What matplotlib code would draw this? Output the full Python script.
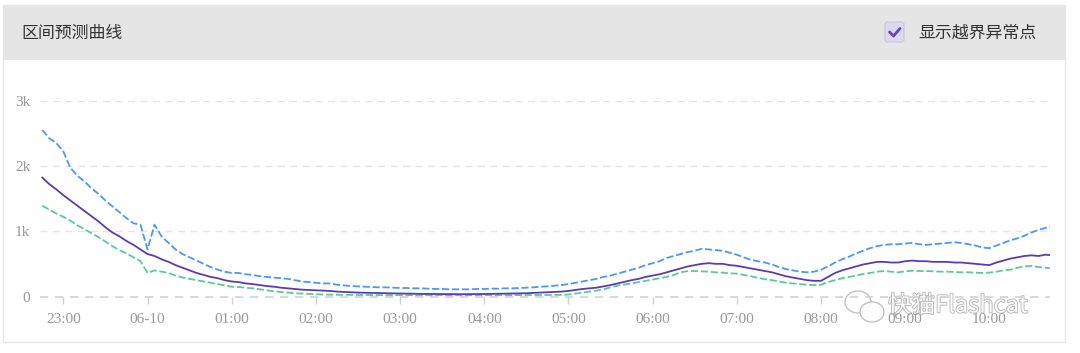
import numpy as np
import matplotlib
matplotlib.use("Agg")
import matplotlib.pyplot as plt
from matplotlib.patches import Rectangle, FancyBboxPatch, Ellipse
import matplotlib.patheffects as pe

plt.rcParams['font.family'] = ['Noto Sans CJK SC', 'DejaVu Sans']

# 5-minute samples starting 22:45 (x = hours since 22:00)
upper = [2.55, 2.42, 2.35, 2.22, 1.97, 1.85, 1.76, 1.66, 1.57, 1.47, 1.38, 1.29, 1.20, 1.12, 1.10,
         0.72, 1.10, 0.92, 0.82, 0.72, 0.65, 0.60, 0.55, 0.50, 0.45, 0.41, 0.38, 0.36, 0.36, 0.34,
         0.33, 0.31, 0.30, 0.29, 0.28, 0.27, 0.25, 0.23, 0.22, 0.21, 0.20, 0.20, 0.18, 0.17, 0.16,
         0.155, 0.15, 0.145, 0.14, 0.14, 0.135, 0.13, 0.13, 0.125, 0.125, 0.12, 0.115, 0.115, 0.11, 0.11,
         0.11, 0.11, 0.115, 0.115, 0.12, 0.12, 0.125, 0.125, 0.13, 0.135, 0.14, 0.15, 0.155, 0.165, 0.175,
         0.19, 0.21, 0.23, 0.25, 0.27, 0.30, 0.32, 0.35, 0.38, 0.41, 0.44, 0.48, 0.51, 0.54, 0.59,
         0.62, 0.65, 0.68, 0.70, 0.73, 0.72, 0.71, 0.70, 0.67, 0.64, 0.60, 0.56, 0.54, 0.52, 0.49,
         0.45, 0.42, 0.40, 0.38, 0.37, 0.38, 0.41, 0.46, 0.52, 0.57, 0.61, 0.66, 0.70, 0.74, 0.77,
         0.79, 0.80, 0.80, 0.81, 0.82, 0.80, 0.79, 0.80, 0.81, 0.82, 0.83, 0.82, 0.80, 0.78, 0.75,
         0.74, 0.78, 0.82, 0.86, 0.89, 0.93, 0.98, 1.02, 1.05, 1.08]

actual = [1.82, 1.72, 1.64, 1.55, 1.47, 1.39, 1.31, 1.23, 1.15, 1.06, 0.98, 0.92, 0.85, 0.79, 0.72,
          0.65, 0.62, 0.57, 0.53, 0.48, 0.44, 0.40, 0.36, 0.33, 0.30, 0.28, 0.25, 0.23, 0.22, 0.20,
          0.19, 0.175, 0.16, 0.15, 0.135, 0.125, 0.115, 0.105, 0.10, 0.095, 0.09, 0.085, 0.075, 0.07, 0.065,
          0.06, 0.058, 0.055, 0.052, 0.05, 0.048, 0.045, 0.043, 0.042, 0.04, 0.04, 0.038, 0.037, 0.036, 0.035,
          0.035, 0.036, 0.037, 0.038, 0.04, 0.042, 0.044, 0.046, 0.048, 0.05, 0.055, 0.06, 0.065, 0.07, 0.075,
          0.085, 0.10, 0.115, 0.125, 0.135, 0.155, 0.175, 0.20, 0.225, 0.25, 0.27, 0.30, 0.32, 0.34, 0.37,
          0.40, 0.43, 0.46, 0.48, 0.50, 0.51, 0.50, 0.50, 0.48, 0.47, 0.45, 0.43, 0.41, 0.39, 0.37,
          0.34, 0.31, 0.29, 0.27, 0.25, 0.24, 0.24, 0.30, 0.36, 0.40, 0.43, 0.46, 0.49, 0.51, 0.53,
          0.53, 0.52, 0.52, 0.54, 0.55, 0.54, 0.54, 0.53, 0.53, 0.53, 0.52, 0.52, 0.51, 0.50, 0.49,
          0.48, 0.52, 0.55, 0.58, 0.60, 0.62, 0.63, 0.62, 0.64, 0.63]

lower = [1.39, 1.33, 1.27, 1.22, 1.16, 1.09, 1.03, 0.97, 0.91, 0.84, 0.77, 0.71, 0.66, 0.60, 0.54,
         0.36, 0.40, 0.38, 0.36, 0.32, 0.29, 0.27, 0.25, 0.23, 0.21, 0.19, 0.17, 0.15, 0.145, 0.135,
         0.125, 0.11, 0.095, 0.08, 0.07, 0.06, 0.05, 0.045, 0.04, 0.035, 0.03, 0.028, 0.026, 0.025, 0.024,
         0.022, 0.021, 0.02, 0.02, 0.02, 0.02, 0.02, 0.02, 0.02, 0.02, 0.02, 0.02, 0.02, 0.02, 0.02,
         0.02, 0.02, 0.02, 0.02, 0.02, 0.02, 0.021, 0.021, 0.022, 0.022, 0.022, 0.023, 0.023, 0.024, 0.025,
         0.03, 0.045, 0.06, 0.075, 0.09, 0.11, 0.14, 0.165, 0.185, 0.20, 0.22, 0.24, 0.26, 0.28, 0.30,
         0.33, 0.37, 0.39, 0.39, 0.385, 0.38, 0.37, 0.365, 0.355, 0.35, 0.33, 0.31, 0.285, 0.265, 0.25,
         0.23, 0.21, 0.20, 0.19, 0.18, 0.175, 0.18, 0.22, 0.25, 0.28, 0.30, 0.32, 0.345, 0.36, 0.38,
         0.39, 0.38, 0.37, 0.385, 0.395, 0.39, 0.39, 0.385, 0.38, 0.38, 0.375, 0.37, 0.37, 0.365, 0.36,
         0.365, 0.38, 0.40, 0.41, 0.44, 0.46, 0.47, 0.45, 0.44, 0.43]

tick_hours = [1, 2, 3, 4, 5, 6, 7, 8, 9, 10, 11, 12]
tick_labels = ['23:00', '06-10', '01:00', '02:00', '03:00', '04:00', '05:00',
               '06:00', '07:00', '08:00', '09:00', '10:00']
ytick_vals = [0, 1000, 2000, 3000]
ytick_labels = ['0', '1k', '2k', '3k']

x = 0.75 + np.arange(len(actual)) / 12.0

W, H = 1080, 353
fig = plt.figure(figsize=(W / 100, H / 100), dpi=100)

# card / header drawn in pixel coordinates
bg = fig.add_axes([0, 0, 1, 1])
bg.set_xlim(0, W)
bg.set_ylim(H, 0)
bg.axis('off')
bg.add_patch(Rectangle((3, 5), 1062, 337, facecolor='white', edgecolor='#e6e6e6', lw=1))
bg.add_patch(Rectangle((3, 5), 1062, 55, facecolor='#e5e5e5', edgecolor='none'))
bg.text(21, 33, '区间预测曲线', fontsize=12.2, color='#333333', va='center', ha='left')
bg.add_patch(FancyBboxPatch((885, 22), 19, 20, boxstyle='round,pad=0,rounding_size=3',
                            facecolor='#dcd9ec', edgecolor='#cdc7e4', lw=1))
bg.plot([889.5, 893.5, 900], [32, 36, 28.5], color='#6447bd', lw=2, solid_capstyle='round')
bg.text(918, 33, '显示越界异常点', fontsize=12.2, color='#333333', va='center', ha='left')

# main chart
ax = fig.add_axes([40 / W, (H - 296.5) / H, 1010 / W, 196 / H])
ax.patch.set_alpha(0)
vals = lambda s: np.array(s) * 1000
ax.plot(x, vals(upper), color='#4a98f7', lw=1.3, ls=(0, (4, 1.5)))
ax.plot(x, vals(lower), color='#5cc99b', lw=1.3, ls=(0, (4, 1.5)))
ax.plot(x, vals(actual), color='#5a3bb5', lw=1.3)

ax.set_xlim(0.723, 12.72)
ax.set_ylim(0, 3000)
for s in ax.spines.values():
    s.set_visible(False)
for v in ytick_vals[1:]:
    ax.axhline(v, color='#e4e4e4', lw=1, ls=(0, (5, 4)), zorder=0)
ax.axhline(0, color='#d2d2d2', lw=1.2, ls=(0, (5, 4)), zorder=0, clip_on=False)

ax.set_xticks(tick_hours)
ax.set_xticklabels(tick_labels)
ax.set_yticks(ytick_vals)
ax.set_yticklabels(ytick_labels)
ax.tick_params(axis='x', direction='out', length=5, width=1, color='#d0d0d0', pad=7,
               labelsize=11, labelcolor='#999999')
ax.tick_params(axis='y', length=0, pad=7, labelsize=11, labelcolor='#999999')
for lab in ax.get_xticklabels() + ax.get_yticklabels():
    lab.set_family(['Liberation Serif', 'DejaVu Serif'])

# watermark
bg.add_patch(Ellipse((858, 302), 26, 22, facecolor='white', edgecolor='#bdbdbd', lw=1, alpha=0.9))
bg.add_patch(Ellipse((872, 312), 24, 20, facecolor='white', edgecolor='#bdbdbd', lw=1, alpha=0.9))
wm = bg.text(888, 306, '快猫Flashcat', fontsize=17, color='white', va='center', ha='left', alpha=0.95)
wm.set_path_effects([pe.withStroke(linewidth=1.2, foreground='#b0b0b0')])

fig.savefig('out.png', dpi=100)
